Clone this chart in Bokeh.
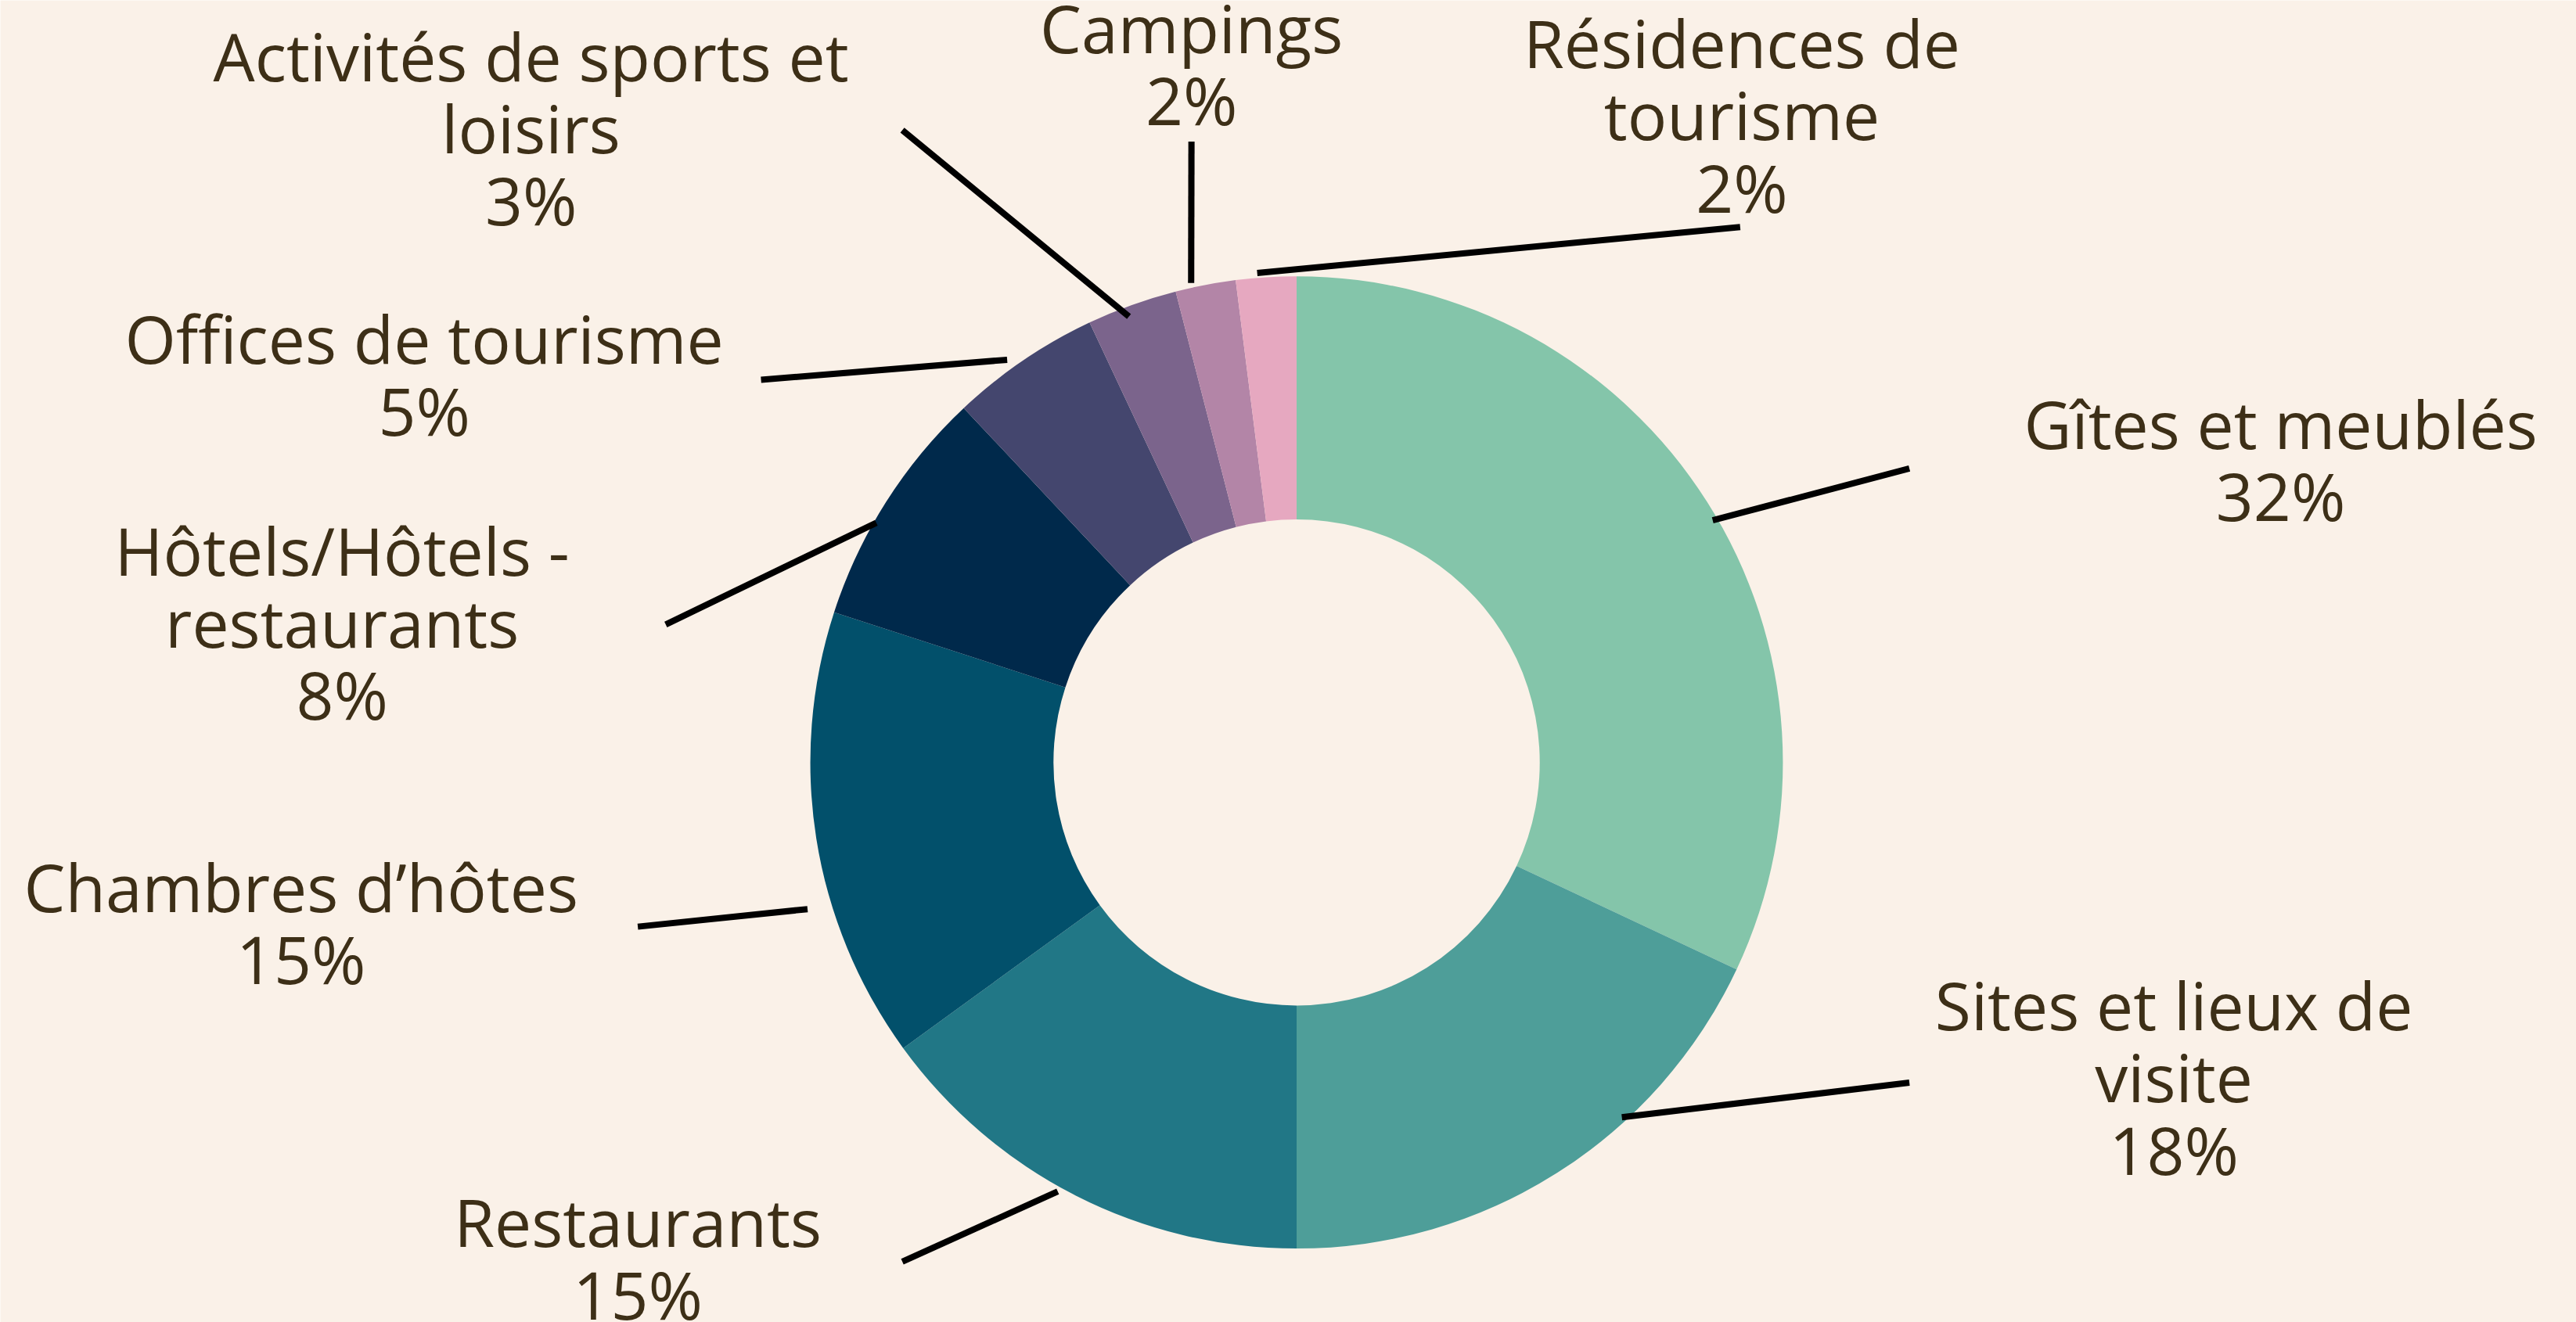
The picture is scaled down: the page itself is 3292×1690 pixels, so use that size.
import math
from bokeh.plotting import figure
from bokeh.models import Range1d, ColumnDataSource
from bokeh.embed import file_html
from bokeh.resources import INLINE
from bokeh.core.properties import value

# ---------------- data ----------------
categories = ["Gîtes et meublés", "Sites et lieux de visite", "Restaurants",
              "Chambres d’hôtes", "Hôtels/Hôtels - restaurants", "Offices de tourisme",
              "Activités de sports et loisirs", "Campings", "Résidences de tourisme"]
label_lines = [["Gîtes et meublés"], ["Sites et lieux de", "visite"], ["Restaurants"],
               ["Chambres d’hôtes"], ["Hôtels/Hôtels -", "restaurants"], ["Offices de tourisme"],
               ["Activités de sports et", "loisirs"], ["Campings"], ["Résidences de", "tourisme"]]
shares = [32, 18, 15, 15, 8, 5, 3, 2, 2]
colors = ["#84C5AA", "#4E9E99", "#217786", "#02506B", "#00294B",
          "#44466E", "#7B648C", "#B385A7", "#E6A8C0"]

# ---------------- layout (reference pixel space) ----------------
S = 3292 / 1568
W, H = 3292, 1690
BG = "#FAF1E8"
TXT = "#3D2F17"
CX, CY = 789 * S, 464 * S
R_OUT, R_IN = 296 * S, 148 * S
FONT = "Open Sans"
FSIZE = "84px"
LINE_GAP = 44 * S
TEXT_OFF = -5

# label block centre (x, y of first line) in shrunk reference pixels
label_pos = [(1388, 260), (1323, 614), (388, 746), (183, 542), (208, 337),
             (258, 208), (323, 36), (725, 19), (1060, 28)]
# leader: start angle (deg clockwise from top), radius factor, end point (shrunk px)
leader_start = [(59.8, 0.99), (137.5, 0.99), (209.1, 1.01), (253.3, 1.05), (299.7, 0.995),
                (324.3, 1.02), (339.4, 0.98), (347.6, 1.01), (355.4, 1.01)]
leader_end = [(1162, 285), (1162, 659), (549, 768), (388, 564), (405, 380),
              (463, 231), (549, 79), (725, 86), (1059, 138)]


def ypix(y):
    return H - y


p = figure(width=W, height=H, output_backend="svg", toolbar_location=None,
           x_range=Range1d(0, W), y_range=Range1d(0, H),
           background_fill_color=BG, border_fill_color=BG, min_border=0)
p.axis.visible = False
p.grid.visible = False
p.outline_line_color = None

# wedges
total = sum(shares)
starts, ends = [], []
acc = 0
for v in shares:
    t1 = acc / total * 360
    acc += v
    t2 = acc / total * 360
    starts.append(math.radians(90 - t2))
    ends.append(math.radians(90 - t1))
src = ColumnDataSource(dict(x=[CX] * len(shares), y=[ypix(CY)] * len(shares),
                            start=starts, end=ends, color=colors, cat=categories))
p.annular_wedge(x="x", y="y", inner_radius=R_IN, outer_radius=R_OUT,
                start_angle="start", end_angle="end", color="color",
                line_color=None, direction="anticlock", source=src)

# leader lines
xs, ys = [], []
for (ang, rf), (ex, ey) in zip(leader_start, leader_end):
    a = math.radians(ang)
    sx = CX + R_OUT * rf * math.sin(a)
    sy = CY - R_OUT * rf * math.cos(a)
    xs.append([sx, ex * S])
    ys.append([ypix(sy), ypix(ey * S)])
p.multi_line(xs=xs, ys=ys, line_color="black", line_width=8)

# labels
tx, ty, tt = [], [], []
for lines, v, (lx, ly) in zip(label_lines, shares, label_pos):
    allines = lines + [f"{v}%"]
    for i, t in enumerate(allines):
        tx.append(lx * S)
        ty.append(ypix(ly * S + i * LINE_GAP + TEXT_OFF))
        tt.append(t)
p.text(x=tx, y=ty, text=tt, text_font=value(FONT), text_font_size=FSIZE,
       text_color=TXT, text_align="center", text_baseline="middle")

html = file_html(p, INLINE)
html = html.replace("<body>", f'<body style="margin:0;overflow:hidden;background:{BG};">', 1)
open("out.html", "w").write(html)
